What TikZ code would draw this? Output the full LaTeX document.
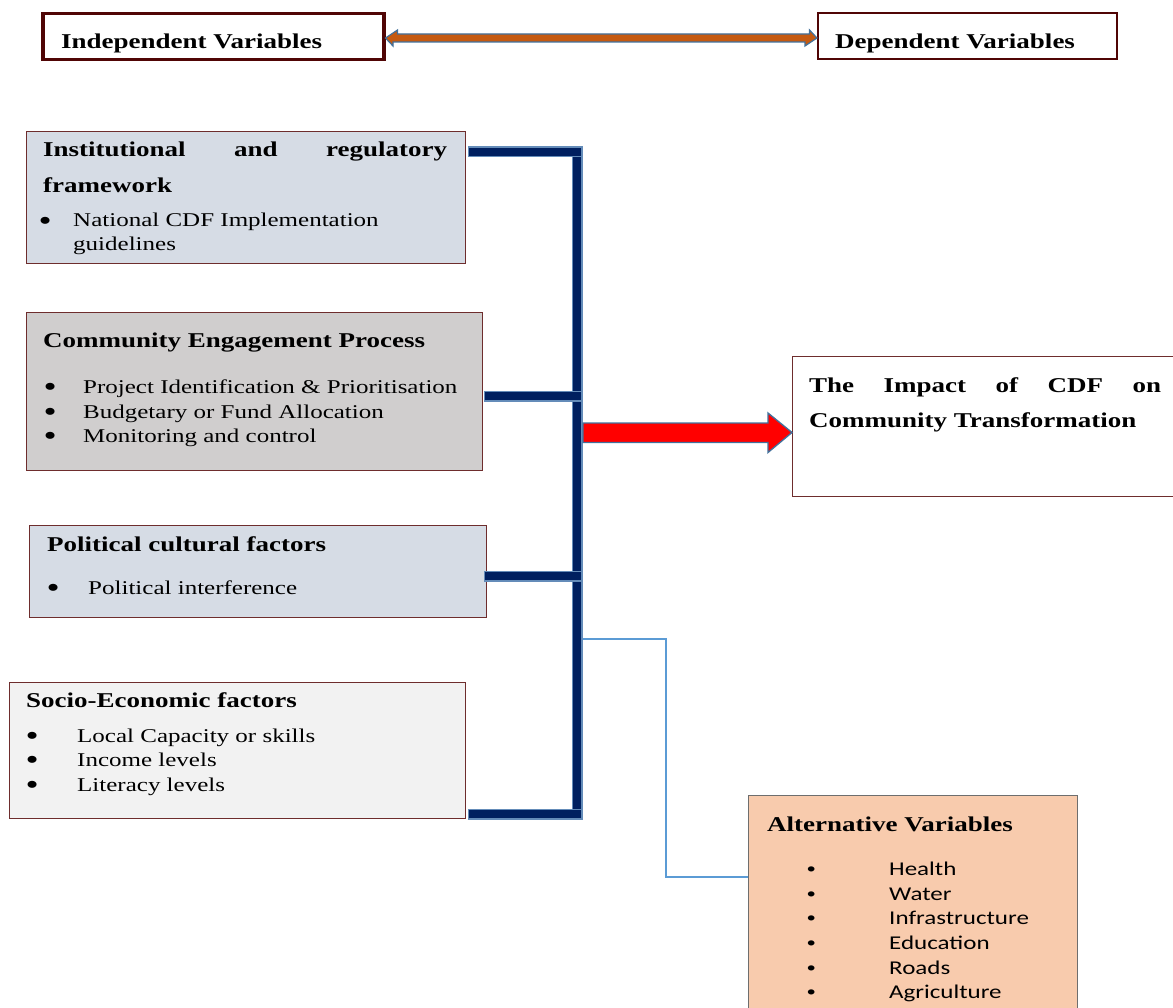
\documentclass[tikz,border=0pt]{standalone}
\usepackage{fontspec}
\setmainfont{Liberation Serif}
\newfontfamily\altfont{Carlito}
\usepackage{graphicx}
\usetikzlibrary{positioning}

\definecolor{boxline}{RGB}{110,45,45}
\definecolor{topline}{RGB}{80,5,5}
\definecolor{instfill}{RGB}{214,220,229}
\definecolor{cepfill}{RGB}{208,206,206}
\definecolor{socfill}{RGB}{242,242,242}
\definecolor{altfill}{RGB}{248,203,173}
\definecolor{altline}{RGB}{110,110,110}
\definecolor{busnavy}{RGB}{0,32,96}
\definecolor{busedge}{RGB}{100,140,185}
\definecolor{arrowedge}{RGB}{65,113,156}
\definecolor{orangebar}{RGB}{197,90,17}
\definecolor{thinblue}{RGB}{91,155,213}

\newcommand{\squash}[1]{\scalebox{1}[0.78]{#1}}
\newcommand{\itembul}[1]{\makebox[0pt]{\smash{\raisebox{-0.16em}{\scalebox{1.5}{\textbullet}}}}\hspace*{#1}}
\newcommand{\altbul}[1]{\makebox[0pt]{\smash{\raisebox{0.06em}{\scalebox{0.75}{\textbullet}}}}\hspace*{#1}}

\begin{document}
\begin{tikzpicture}[x=1pt, y=-1pt,
	box/.style={draw=boxline, line width=1.3pt, anchor=north west, inner sep=0pt},
	topbox/.style={draw=topline, anchor=north west, inner sep=0pt, minimum height=46pt},
	title/.style={anchor=base west, inner sep=0pt, font=\fontsize{27}{32}\selectfont\bfseries},
	body/.style={anchor=base west, inner sep=0pt, font=\fontsize{25}{30}\selectfont},
	alttext/.style={anchor=base west, inner sep=0pt, font=\altfont\fontsize{25}{30}\selectfont},
	bus/.style={draw=busedge, line width=11pt, line cap=rect,
		postaction={draw=busnavy, line width=8.5pt, line cap=rect}},
	bigarrow/.style={fill=red, draw=arrowedge, line width=1.3pt, line join=miter},
	twoway/.style={fill=orangebar, draw=arrowedge, line width=1.2pt, line join=miter},
	link/.style={draw=thinblue, line width=1.4pt}]
	\useasboundingbox (0,0) rectangle (1173,1008);

	% top row
		\node[topbox, line width=3.5pt, minimum width=341pt] (indep) at (41,12) {};
		\node[topbox, line width=2.4pt, minimum width=299pt] (dep) at (817,12) {};
		\node[title] (indeplbl) at (61,49) {\squash{Independent Variables}};
		\node[title] (deplbl) at (835,49) {\squash{Dependent Variables}};
		\coordinate (toplevel) at (0,38);
		\draw[twoway] (indep.east |- toplevel) -- ++(12,-8) -- ++(0,4) -- ++(412,0) -- ++(0,-4)
			-- (dep.west |- toplevel) -- ++(-12,8) -- ++(0,-4) -- ++(-412,0) -- ++(0,4) -- cycle;

	% the four groups of factors
		\node[box, fill=instfill, minimum width=439pt, minimum height=132pt] (inst) at (26,131) {};
		\node[title] (insttitle) at (43,157) {\squash{\makebox[404pt][s]{Institutional and regulatory}}};
		\node[title] (insttitleb) at (43,193) {\squash{framework}};
		\node[body] (institem) at (45,227) {\squash{\itembul{28pt}National CDF Implementation}};
		\node[body] (institemb) at (73,251) {\squash{guidelines}};

		\node[box, fill=cepfill, minimum width=456pt, minimum height=158pt] (cep) at (26,312) {};
		\node[title] (ceptitle) at (43,348) {\squash{Community Engagement Process}};
		\foreach \y/\t in {393/Project Identification \& Prioritisation,
			418/Budgetary or Fund Allocation, 442/Monitoring and control}
			\node[body] (cep-\y) at (50,\y) {\squash{\itembul{33pt}\t}};

		\node[box, fill=instfill, minimum width=457pt, minimum height=92pt] (pol) at (29,525) {};
		\node[title] (poltitle) at (47,551) {\squash{Political cultural factors}};
		\node[body] (politem) at (53,594) {\squash{\itembul{35pt}Political interference}};

		\node[box, fill=socfill, minimum width=456pt, minimum height=136pt] (soc) at (9,682) {};
		\node[title] (soctitle) at (26,707) {\squash{Socio-Economic factors}};
		\foreach \y/\t in {742/Local Capacity or skills, 766/Income levels, 791/Literacy levels}
			\node[body] (soc-\y) at (32,\y) {\squash{\itembul{45pt}\t}};

	% outcome and alternative
		\node[box, fill=white, minimum width=400pt, minimum height=140pt] (impact) at (792,356) {};
		\node[title] (impacttitle) at (809,392) {\squash{\makebox[352pt][s]{The Impact of CDF on}}};
		\node[title] (impacttitleb) at (809,427) {\squash{Community Transformation}};

		\node[box, draw=altline, fill=altfill, minimum width=329pt, minimum height=240pt] (alt) at (748,795) {};
		\node[title] (alttitle) at (767,831) {\squash{Alternative Variables}};
		\foreach \y/\t in {875/Health, 900/Water, 924/Infrastructure, 949/Education, 974/Roads, 998/Agriculture}
			\node[alttext] (alt-\y) at (811,\y) {\squash{\altbul{78pt}\t}};

	% the bracket joining the factors
		\coordinate (bustop) at (577,152);
		\coordinate (busbot) at (577,814);
		\coordinate (cepjoin) at (577,396);
		\coordinate (poljoin) at (577,576);
		\coordinate (hub) at (583,432.5);
		\coordinate (altjoin) at (583,639);
		\coordinate (altin) at (748,877);
		\draw[bus] (bustop) -- (busbot);
		\draw[bus] ([xshift=7pt]inst.east |- bustop) -- (bustop);
		\draw[bus] ([xshift=6pt]cep.east |- cepjoin) -- (cepjoin);
		\draw[bus] ([xshift=2pt]pol.east |- poljoin) -- (poljoin);
		\draw[bus] ([xshift=7pt]soc.east |- busbot) -- (busbot);

		\draw[bigarrow] (hub) ++(0,-9.5) -- ++(185,0) -- ++(0,-10) -- (impact.west |- hub)
			-- ++(-24,20) -- ++(0,-10) -- ++(-185,0) -- cycle;
		\draw[link] (altjoin) -- ++(83,0) |- (altin);
\end{tikzpicture}
\end{document}
